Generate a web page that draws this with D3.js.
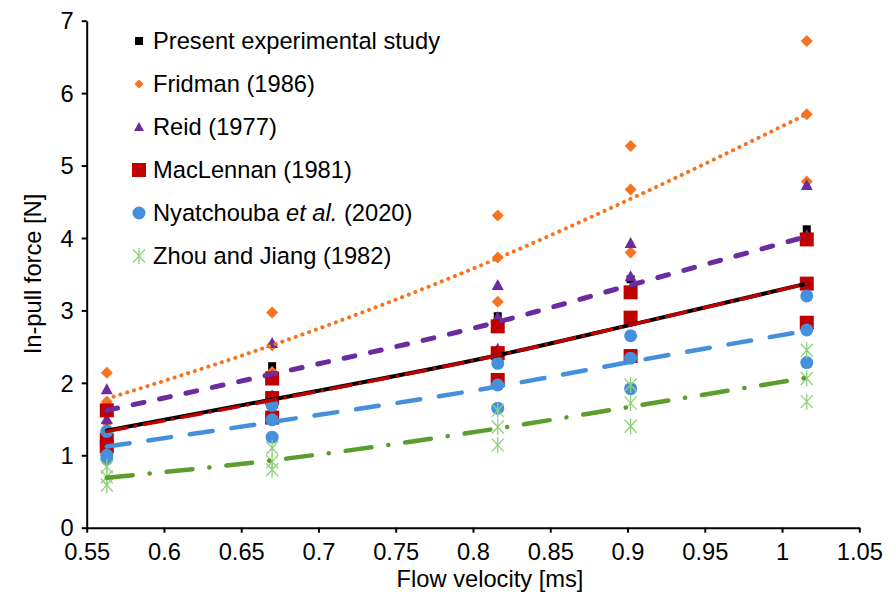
<!DOCTYPE html>
<html>
<head>
<meta charset="utf-8">
<script src="https://cdn.jsdelivr.net/npm/d3@7"></script>
<style>
  body { margin: 0; background: #fff; }
  svg text { font-family: "Liberation Sans", Arial, sans-serif; fill: #000; }
</style>
</head>
<body>
<script>
// DEFINE DATA
var velocities = [0.563, 0.670, 0.816, 0.902, 1.016];
var xTicks = [0.55, 0.6, 0.65, 0.7, 0.75, 0.8, 0.85, 0.9, 0.95, 1, 1.05];
var yTicks = [0, 1, 2, 3, 4, 5, 6, 7];
var seriesNames = ['Present experimental study', 'Fridman (1986)', 'Reid (1977)', 'MacLennan (1981)', 'Nyatchouba et al. (2020)', 'Zhou and Jiang (1982)'];

// measured / predicted forces, one list per velocity
var presentValues = [[1.60, 1.33, 1.10], [2.23, 1.77, 1.50], [2.92, 2.41, 2.02], [3.43, 2.88, 2.33], [4.12, 3.38, 2.80]];
var fridmanValues = [[2.14, 1.74, 1.45], [2.97, 2.52, 2.15], [4.31, 3.73, 3.12], [5.27, 4.67, 3.80], [6.72, 5.71, 4.78]];
var reidValues = [[1.91, 1.50, 1.38], [2.55, 2.10, 1.83], [3.35, 2.91, 2.47], [3.93, 3.47, 2.90], [4.73, 4.04, 3.38]];
var maclennanValues = [[1.62, 1.21, 1.12], [2.06, 1.79, 1.52], [2.78, 2.41, 2.04], [3.25, 2.90, 2.37], [3.98, 3.37, 2.83]];
var nyatchoubaValues = [[1.33, 1.00, 0.95], [1.69, 1.49, 1.25], [2.27, 1.97, 1.65], [2.65, 2.34, 1.92], [3.20, 2.73, 2.28]];
var zhouValues = [[0.84, 0.70, 0.59], [1.10, 0.91, 0.80], [1.62, 1.39, 1.14], [1.97, 1.72, 1.40], [2.45, 2.06, 1.74]];

// trend lines read at each velocity
var presentTrend = [1.34, 1.77, 2.38, 2.80, 3.37];
var fridmanTrend = [1.78, 2.52, 3.72, 4.54, 5.71];
var reidTrend = [1.62, 2.12, 2.84, 3.35, 4.02];
var maclennanTrend = [1.33, 1.76, 2.38, 2.80, 3.37];
var nyatchoubaTrend = [1.12, 1.46, 1.95, 2.29, 2.72];
var zhouTrend = [0.69, 0.93, 1.37, 1.67, 2.07];

var svgWidth = 896;
var svgHeight = 601;
var fontSize = 23.7;

var series = [
  { name: seriesNames[0], values: presentValues, trend: presentTrend, marker: 'smallsquare', color: '#000000', line: '#000000', width: 4, dash: null },
  { name: seriesNames[1], values: fridmanValues, trend: fridmanTrend, marker: 'diamond', color: '#f7731f', line: '#f7731f', width: 4, dash: '0.1 7' },
  { name: seriesNames[2], values: reidValues, trend: reidTrend, marker: 'triangle', color: '#6a2c9e', line: '#6a2c9e', width: 5, dash: '11 16' },
  { name: seriesNames[3], values: maclennanValues, trend: maclennanTrend, marker: 'square', color: '#c00000', line: '#c00000', width: 3.5, dash: '20 9 0.1 9' },
  { name: seriesNames[4], values: nyatchoubaValues, trend: nyatchoubaTrend, marker: 'circle', color: '#4590dc', line: '#4590dc', width: 4.5, dash: '23 19' },
  { name: seriesNames[5], values: zhouValues, trend: zhouTrend, marker: 'star', color: '#8fd27c', line: '#5c9e2e', width: 4.5, dash: '26 17 0.1 17' }
];

// draws one marker centred on 0,0 inside group g
function drawMarker(g, type, color) {
  if (type === 'smallsquare') {
    g.append('rect').attr('x', -4).attr('y', -4).attr('width', 8).attr('height', 8).attr('fill', color);
  } else if (type === 'square') {
    g.append('rect').attr('x', -7).attr('y', -7).attr('width', 14).attr('height', 14).attr('fill', color);
  } else if (type === 'diamond') {
    g.append('path').attr('d', 'M0,-6L6,0L0,6L-6,0Z').attr('fill', color);
  } else if (type === 'triangle') {
    g.append('path').attr('d', 'M0,-6L6,5L-6,5Z').attr('fill', color);
  } else if (type === 'circle') {
    g.append('circle').attr('r', 6.5).attr('fill', color);
  } else if (type === 'star') {
    g.append('path')
      .attr('d', 'M-6,-6.5L6,6.5M6,-6.5L-6,6.5M0,-8L0,8')
      .attr('stroke', color)
      .attr('stroke-width', 1.3)
      .attr('fill', 'none');
  }
}

document.addEventListener('DOMContentLoaded', function() {

  var svg = d3.select('body')
    .append('svg')
    .attr('width', svgWidth)
    .attr('height', svgHeight);

  var x = d3.scaleLinear().domain([0.55, 1.05]).range([86.7, 859.3]);
  var y = d3.scaleLinear().domain([0, 7]).range([527.7, 20.7]);

  // AXES
  var xAxis = svg.append('g')
    .attr('transform', 'translate(0,' + y(0) + ')')
    .call(d3.axisBottom(x).tickValues(xTicks).tickSize(5).tickSizeOuter(0).tickFormat(function(d) { return String(d); }));
  var yAxis = svg.append('g')
    .attr('transform', 'translate(' + x(0.55) + ',0)')
    .call(d3.axisLeft(y).tickValues(yTicks).tickSize(5).tickSizeOuter(0).tickFormat(d3.format('d')));

  [xAxis, yAxis].forEach(function(ax) {
    ax.select('.domain').attr('stroke', '#000').attr('stroke-width', 2);
    ax.selectAll('.tick line').attr('stroke', '#000').attr('stroke-width', 2);
    ax.selectAll('.tick text')
      .attr('font-size', fontSize)
      .attr('font-family', '"Liberation Sans", Arial, sans-serif')
      .attr('fill', '#000');
  });
  xAxis.selectAll('.tick text').attr('dy', null).attr('y', 32);
  yAxis.selectAll('.tick text').attr('x', -13).attr('dy', '0.35em');

  // MARKERS
  series.forEach(function(s) {
    var pts = [];
    s.values.forEach(function(list, i) {
      list.forEach(function(v) { pts.push({ x: velocities[i], y: v }); });
    });
    var groups = svg.append('g').selectAll('g')
      .data(pts)
      .enter()
      .append('g')
      .attr('transform', function(d) { return 'translate(' + x(d.x) + ',' + y(d.y) + ')'; });
    groups.each(function() { drawMarker(d3.select(this), s.marker, s.color); });
  });

  // TREND LINES
  var line = d3.line()
    .x(function(d, i) { return x(velocities[i]); })
    .y(function(d) { return y(d); })
    .curve(d3.curveMonotoneX);

  series.forEach(function(s) {
    svg.append('path')
      .attr('d', line(s.trend))
      .attr('fill', 'none')
      .attr('stroke', s.line)
      .attr('stroke-width', s.width)
      .attr('stroke-linecap', 'round')
      .attr('stroke-dasharray', s.dash);
  });

  // LEGEND
  var legend = svg.append('g');
  series.forEach(function(s, i) {
    var rowY = 41 + i * 43;
    var m = legend.append('g').attr('transform', 'translate(139,' + rowY + ')');
    if (s.marker === 'diamond') {
      m.append('path').attr('d', 'M0,-4.5L4.5,0L0,4.5L-4.5,0Z').attr('fill', s.color);
    } else if (s.marker === 'triangle') {
      m.append('path').attr('d', 'M0,-5L5,4L-5,4Z').attr('fill', s.color);
    } else {
      drawMarker(m, s.marker, s.color);
    }
    var t = legend.append('text')
      .attr('x', 153)
      .attr('y', rowY)
      .attr('dy', '0.35em')
      .attr('font-size', fontSize);
    if (i === 4) {
      t.append('tspan').text('Nyatchouba ');
      t.append('tspan').attr('font-style', 'italic').text('et al.');
      t.append('tspan').text(' (2020)');
    } else {
      t.text(s.name);
    }
  });

  // AXIS TITLES
  svg.append('text')
    .attr('x', 490)
    .attr('y', 587)
    .attr('text-anchor', 'middle')
    .attr('font-size', fontSize)
    .text('Flow velocity [ms]');

  svg.append('text')
    .attr('transform', 'translate(41,274) rotate(-90)')
    .attr('text-anchor', 'middle')
    .attr('font-size', fontSize)
    .text('In-pull force [N]');

});
</script>
</body>
</html>
